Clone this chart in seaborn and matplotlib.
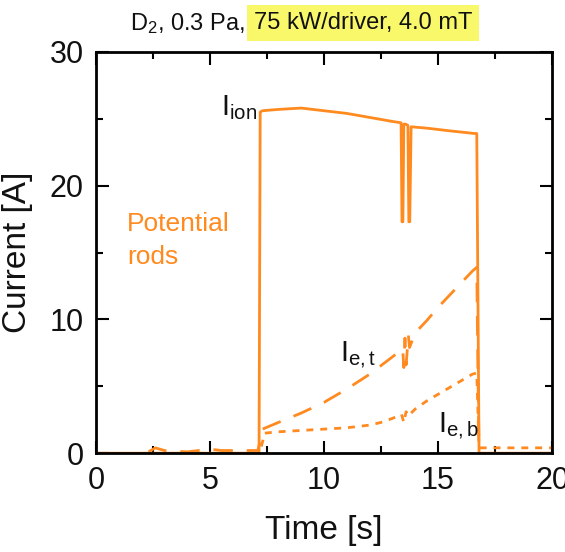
import numpy as np
import pandas as pd
import matplotlib
matplotlib.use("Agg")
import matplotlib.pyplot as plt
import seaborn as sns
from matplotlib.ticker import MultipleLocator

# ---- data ----
ion_t = [0.0, 7.15, 7.2, 7.3, 8.0, 9.0, 10.0, 11.0, 12.0, 13.0, 13.38, 13.42, 13.46, 13.5,
         13.58, 13.68, 13.72, 13.76, 13.82, 14.5, 15.5, 16.6, 16.7, 16.8, 20.0]
ion_v = [0.0, 0.0, 25.5, 25.6, 25.7, 25.8, 25.6, 25.4, 25.1, 24.8, 24.7, 17.3, 17.3, 24.6,
         24.6, 24.5, 17.3, 17.3, 24.4, 24.3, 24.1, 23.9, 23.9, 0.0, 0.0]

et_t = [2.3, 2.6, 3.0, 4.0, 5.0, 5.5, 6.5, 7.1, 7.3, 8.0, 9.0, 10.0, 11.0, 12.0, 13.0,
        13.45, 13.5, 13.55, 13.6, 13.7, 13.75, 14.0, 14.5, 15.0, 15.5, 16.0, 16.5, 16.7, 16.75, 16.8]
et_v = [0.1, 0.4, 0.2, 0.1, 0.3, 0.2, 0.2, 0.2, 1.8, 2.3, 3.0, 3.8, 4.8, 5.9, 7.2,
        7.8, 6.4, 8.6, 6.6, 8.8, 7.9, 9.0, 9.9, 10.9, 11.8, 12.7, 13.6, 13.9, 6.0, 0.4]

eb_t = [7.25, 7.4, 8.0, 9.0, 10.0, 11.0, 12.0, 12.5, 13.0, 13.4, 13.5, 13.6, 13.7, 14.0,
        14.5, 15.0, 15.5, 16.0, 16.5, 16.7, 16.8, 17.0, 18.0, 19.0, 20.0]
eb_v = [0.5, 1.5, 1.6, 1.7, 1.8, 1.9, 2.1, 2.3, 2.6, 2.9, 2.3, 3.1, 2.8, 3.3,
        3.9, 4.4, 4.9, 5.4, 5.9, 6.0, 0.4, 0.4, 0.4, 0.4, 0.4]

x_ticks = [0, 5, 10, 15, 20]
y_ticks = [0, 10, 20, 30]

ORANGE = "#FF8A1F"

sns.set_theme(style="ticks")
plt.rcParams['font.family'] = ['Liberation Sans', 'DejaVu Sans']
plt.rcParams['mathtext.fontset'] = 'custom'
plt.rcParams['mathtext.rm'] = 'Liberation Sans'
plt.rcParams['mathtext.it'] = 'Liberation Sans:italic'
plt.rcParams['mathtext.bf'] = 'Liberation Sans:bold'

fig = plt.figure(figsize=(5.65, 5.52), dpi=100)
ax = fig.add_axes([0.170, 0.179, 0.807, 0.727])

df_ion = pd.DataFrame({"t": ion_t, "I": ion_v})
df_et = pd.DataFrame({"t": et_t, "I": et_v})
df_eb = pd.DataFrame({"t": eb_t, "I": eb_v})

sns.lineplot(data=df_ion, x="t", y="I", ax=ax, color=ORANGE, lw=2.0, sort=False, estimator=None)
sns.lineplot(data=df_et, x="t", y="I", ax=ax, color=ORANGE, lw=2.0, sort=False, estimator=None)
ax.lines[-1].set_dashes([7, 5])
sns.lineplot(data=df_eb, x="t", y="I", ax=ax, color=ORANGE, lw=2.0, sort=False, estimator=None)
ax.lines[-1].set_dashes([2.5, 2.5])

ax.set_xlim(0, 20)
ax.set_ylim(0, 30)
ax.set_xticks(x_ticks)
ax.set_yticks(y_ticks)
ax.xaxis.set_minor_locator(MultipleLocator(2.5))
ax.yaxis.set_minor_locator(MultipleLocator(5))
ax.tick_params(which='both', direction='in', top=True, right=True, width=1.5, color='black')
ax.tick_params(which='major', length=9, labelsize=22, pad=9, labelcolor='#111111')
ax.tick_params(which='minor', length=5)
for s in ax.spines.values():
    s.set_linewidth(2.0)
    s.set_color('black')

ax.set_xlabel("Time [s]", fontsize=24, labelpad=14, color='#111111')
ax.set_ylabel("Current [A]", fontsize=24, labelpad=12, color='#111111')

ax.text(5.5, 25.8, r"I$_\mathrm{ion}$", fontsize=21, ha='left', va='center', color='#111111')
ax.text(10.7, 7.3, r"I$_\mathrm{e,t}$", fontsize=21, ha='left', va='center', color='#111111')
ax.text(15.0, 2.0, r"I$_\mathrm{e,b}$", fontsize=21, ha='left', va='center', color='#111111')
ax.text(1.35, 15.9, "Potential\nrods", fontsize=19, ha='left', va='center', color=ORANGE,
        linespacing=1.45)

fig.text(0.434, 0.958, r"D$_2$, 0.3 Pa,", fontsize=17, ha='right', va='center', color='#111111')
fig.text(0.449, 0.958, "75 kW/driver, 4.0 mT", fontsize=17, ha='left', va='center', color='#111111',
         bbox=dict(boxstyle='square,pad=0.3', facecolor='#F8F86A', edgecolor='none'))

fig.savefig("out.png", dpi=100, facecolor='white')
